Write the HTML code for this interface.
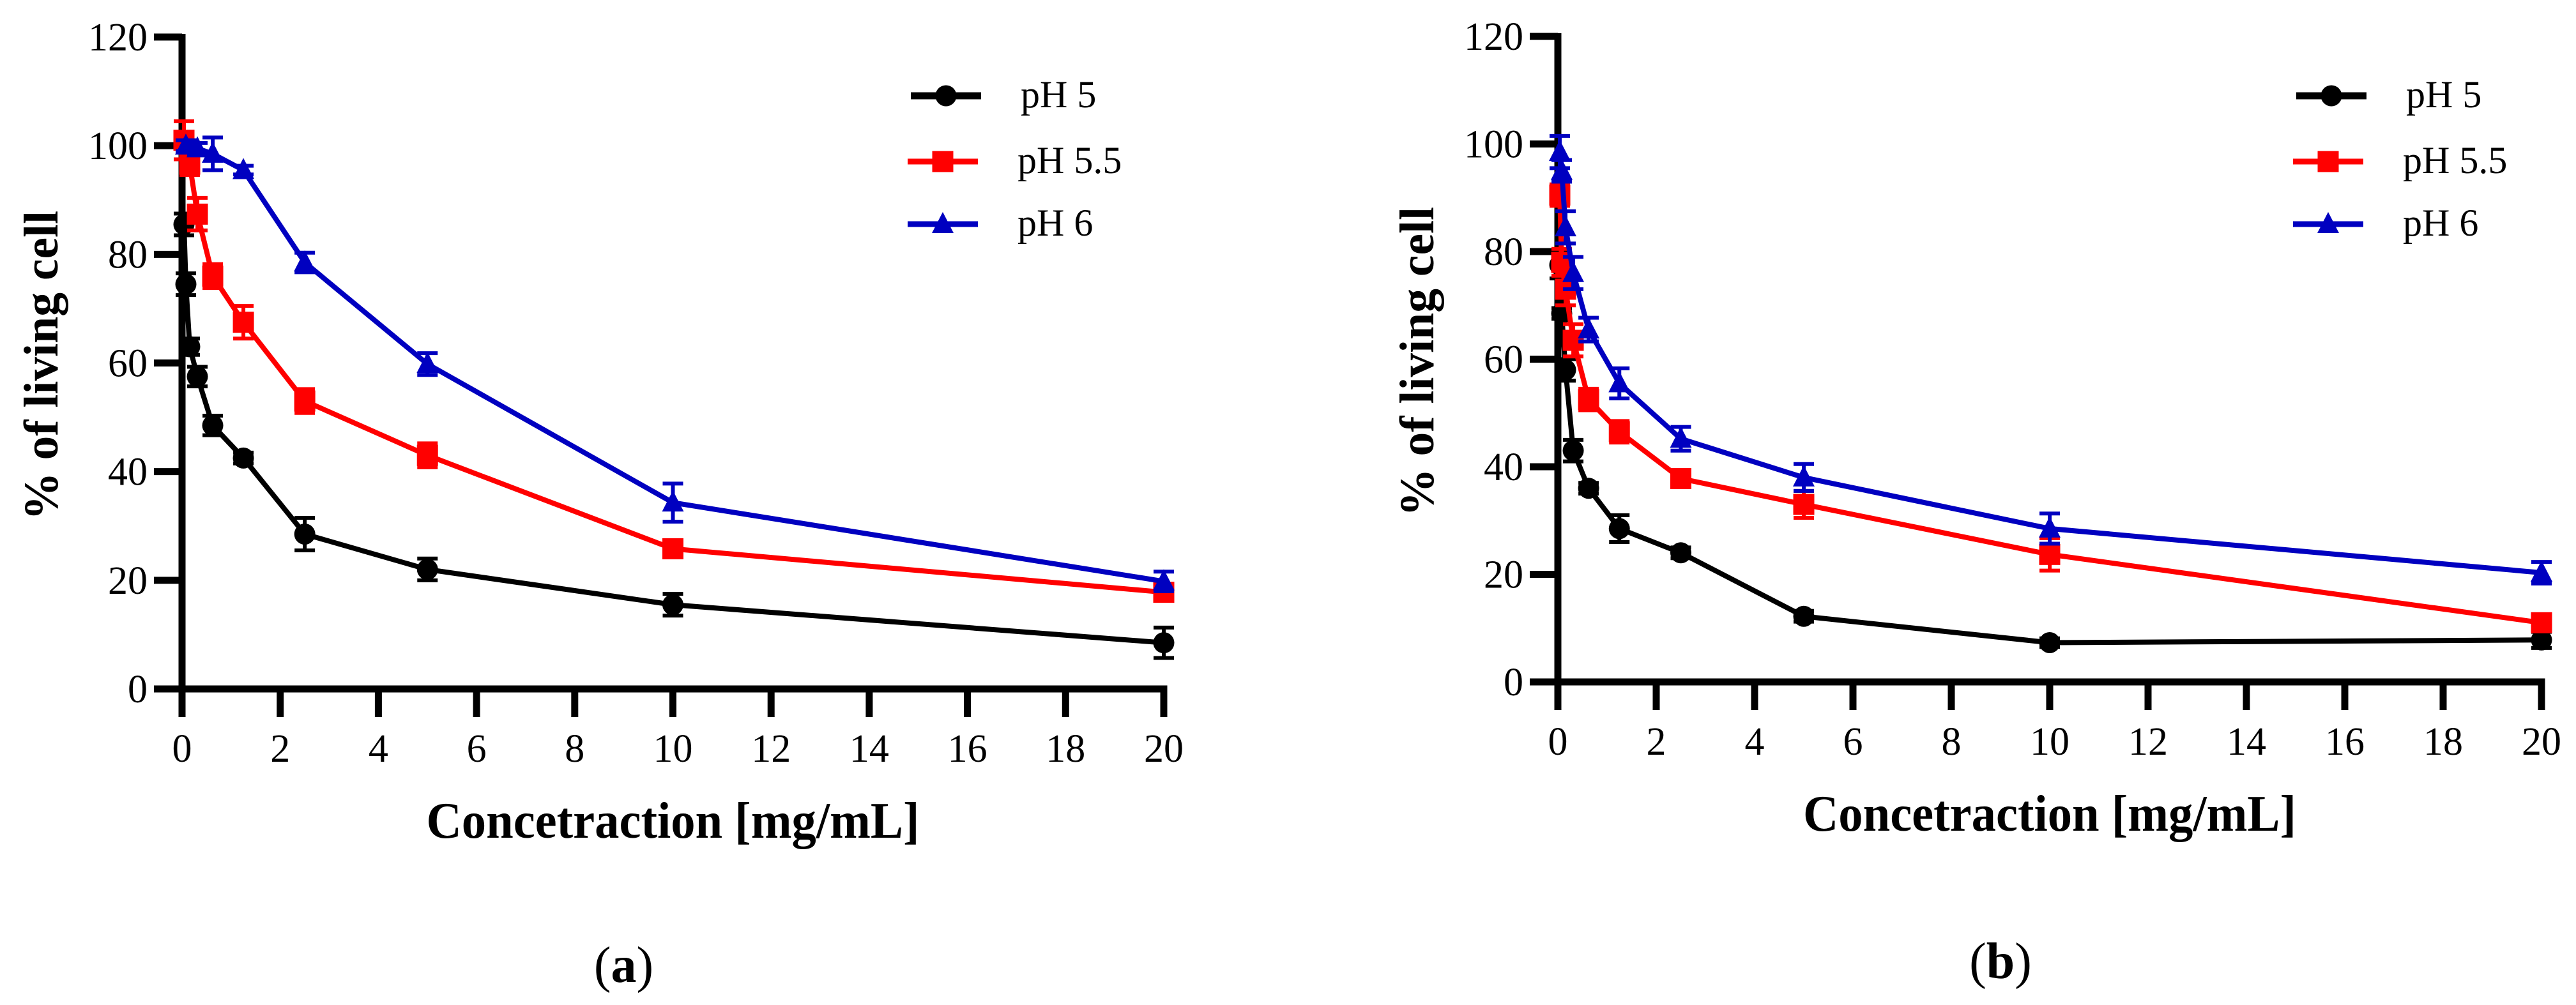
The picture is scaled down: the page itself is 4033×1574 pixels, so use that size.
<!DOCTYPE html>
<html><head><meta charset="utf-8"><style>
html,body{margin:0;padding:0;background:#fff;}
svg{display:block;font-family:"Liberation Serif","DejaVu Serif",serif;}
svg text{font-family:"Liberation Serif","DejaVu Serif",serif;}
</style></head><body>
<svg id="fig" width="4033" height="1574" viewBox="0 0 4033 1574" xmlns="http://www.w3.org/2000/svg" font-family="Liberation Serif, DejaVu Serif, serif"></svg>
<script>
// ---- data ----
const xTicks = [0,2,4,6,8,10,12,14,16,18,20];
const yTicks = [0,20,40,60,80,100,120];
const seriesNames = ["pH 5","pH 5.5","pH 6"];

// Panel (a)
const aX_ph5 = [0.039,0.078,0.156,0.3125,0.625,1.25,2.5,5,10,20];
const aY_ph5 = [85.5,74.5,63,57.5,48.5,42.5,28.5,22,15.5,8.5];
const aE_ph5 = [2,2,1.5,1.8,1.8,1,3,2,2,2.8];
const aX_ph55 = [0.039,0.156,0.3125,0.625,1.25,2.5,5,10,20];
const aY_ph55 = [101,96.6,87.4,76,67.5,53,43,25.8,17.8];
const aE_ph55 = [3.5,2,3,2.2,3,2.2,2.2,1.5,1.2];
const aX_ph6 = [0.078,0.3125,0.625,1.25,2.5,5,10,20];
const aY_ph6 = [100,99.5,98.5,95.5,78.5,59.8,34.3,19.8];
const aE_ph6 = [1,1,3,0.8,1.8,2,3.5,1.8];

// Panel (b)
const bX_ph5 = [0.039,0.078,0.156,0.3125,0.625,1.25,2.5,5,10,20];
const bY_ph5 = [77.5,68.5,58,43,36,28.5,24,12.2,7.3,7.8];
const bE_ph5 = [2.5,1,2,2,1,2.5,1,1,0.8,1.5];
const bX_ph55 = [0.039,0.078,0.156,0.3125,0.625,1.25,2.5,5,10,20];
const bY_ph55 = [90.5,78,73,63.5,52.5,46.5,37.8,33,23.7,11];
const bE_ph55 = [2,2.5,3,3,2,2,1.5,2.5,3,1];
const bX_ph6 = [0.039,0.078,0.156,0.3125,0.625,1.25,2.5,5,10,20];
const bY_ph6 = [98.5,95,84.5,76,65.5,55.5,45.2,38,28.5,20.3];
const bE_ph6 = [3,2,3,3,2.2,2.8,2.2,2.5,2.8,2];

const colors = ["#000000","#ff0000","#0000c0"];
const FONT = '"Liberation Serif", "DejaVu Serif", serif';
const NS = "http://www.w3.org/2000/svg";
const svg = document.getElementById("fig");

function mk(tag, attrs, parent){
  const e = document.createElementNS(NS, tag);
  for (const k in attrs) e.setAttribute(k, attrs[k]);
  if (tag === "text") e.setAttribute("font-family", FONT);
  (parent||svg).appendChild(e);
  return e;
}
function marker(g, kind, cx, cy, col){
  let m;
  if (kind===0){ m = mk("circle",{cx:cx,cy:cy,r:16.5,fill:col},g); }
  else if (kind===1){ m = mk("rect",{x:cx-16.5,y:cy-16.5,width:33,height:33,fill:col},g); }
  else { m = mk("polygon",{points:`${cx},${cy-19} ${cx-17},${cy+14} ${cx+17},${cy+14}`,fill:col},g); }
  return m;
}

function panel(P){
  const sx = v => P.x0 + (v/20)*(P.x20-P.x0);
  const sy = v => P.y0 - (v/120)*(P.y0-P.y120);
  const g = mk("g",{});
  
  

  const ax = mk("g",{},g);
  
  
  mk("line",{x1:P.x0,y1:sy(120)-5,x2:P.x0,y2:P.y0+44,stroke:"#000","stroke-width":11},ax);
  mk("line",{x1:P.x0-44,y1:P.y0,x2:sx(20)+5.5,y2:P.y0,stroke:"#000","stroke-width":11},ax);
  yTicks.forEach(t=>{
    const y = sy(t);
    mk("line",{x1:P.x0-44,y1:y,x2:P.x0,y2:y,stroke:"#000","stroke-width":11},ax);
    const tx = mk("text",{x:P.x0-54,y:y+21,"font-size":62,"text-anchor":"end",fill:"#000"},ax);
    tx.textContent = t;
    
    
  });
  xTicks.forEach(t=>{
    const x = sx(t);
    mk("line",{x1:x,y1:P.y0,x2:x,y2:P.y0+44,stroke:"#000","stroke-width":11},ax);
    const tx = mk("text",{x:x,y:P.y0+114,"font-size":62,"text-anchor":"middle",fill:"#000"},ax);
    tx.textContent = t;
    
    
  });

  const cy = (sy(0)+sy(120))/2 + 4;
  const yt = mk("text",{x:0,y:0,"font-size":76,"font-weight":"bold","text-anchor":"middle",
    textLength:485,lengthAdjust:"spacingAndGlyphs",
    transform:`translate(${P.x0-195},${cy}) rotate(-90)`,fill:"#000"},g);
  yt.textContent = "% of living cell";
  
  
  const cx = (P.x0+sx(20))/2;
  const xt = mk("text",{x:cx,y:P.y0+233,"font-size":80,"font-weight":"bold","text-anchor":"middle",
    textLength:772,lengthAdjust:"spacingAndGlyphs",fill:"#000"},g);
  xt.textContent = "Concetraction [mg/mL]";
  
  
  const pl = mk("text",{x:cx-77,y:P.capY,"font-size":80,"text-anchor":"middle",fill:"#000"},g);
  const t1 = document.createElementNS(NS,"tspan"); t1.textContent="(";
  const t2 = document.createElementNS(NS,"tspan"); t2.textContent=P.id; t2.setAttribute("font-weight","bold");
  const t3 = document.createElementNS(NS,"tspan"); t3.textContent=")";
  pl.appendChild(t1); pl.appendChild(t2); pl.appendChild(t3);
  
  

  P.series.forEach((s,i)=>{
    const sg = mk("g",{},g);
    
    
    const col = colors[i];
    const pts = s.x.map((xv,j)=>sx(xv)+","+sy(s.y[j])).join(" ");
    mk("polyline",{points:pts,fill:"none",stroke:col,"stroke-width":8,"stroke-linejoin":"round"},sg);
    s.x.forEach((xv,j)=>{
      const X = sx(xv), Y = sy(s.y[j]), e = s.e[j];
      const yt1 = sy(s.y[j]+e), yb1 = sy(s.y[j]-e);
      mk("line",{x1:X,y1:yt1,x2:X,y2:yb1,stroke:col,"stroke-width":6},sg);
      mk("line",{x1:X-16,y1:yt1,x2:X+16,y2:yt1,stroke:col,"stroke-width":6},sg);
      mk("line",{x1:X-16,y1:yb1,x2:X+16,y2:yb1,stroke:col,"stroke-width":6},sg);
      const m = marker(sg, i, X, Y, col);
      
      
    });
  });

  const lg = mk("g",{},g);
  
  
  const rowsY = [150,253,351];
  seriesNames.forEach((n,i)=>{
    const eg = mk("g",{},lg);
    
    
    const y = rowsY[i];
    const lx = P.legX - (i===0?0:5);
    mk("line",{x1:lx,y1:y,x2:lx+110,y2:y,stroke:colors[i],"stroke-width":i===0?11:9},eg);
    marker(eg, i, lx+55, y, colors[i]);
    const t = mk("text",{x:P.legX+172-(i===0?0:5),y:y+18,"font-size":60,fill:"#000"},eg);
    t.textContent = n;
  });
}

panel({id:"a",x0:285,x20:1822,y0:1079,y120:58,capY:1538,legX:1426,
  series:[{x:aX_ph5,y:aY_ph5,e:aE_ph5},{x:aX_ph55,y:aY_ph55,e:aE_ph55},{x:aX_ph6,y:aY_ph6,e:aE_ph6}]});
panel({id:"b",x0:2439,x20:3979,y0:1068,y120:57,capY:1532,legX:3595,
  series:[{x:bX_ph5,y:bY_ph5,e:bE_ph5},{x:bX_ph55,y:bY_ph55,e:bE_ph55},{x:bX_ph6,y:bY_ph6,e:bE_ph6}]});
</script>
</body></html>
